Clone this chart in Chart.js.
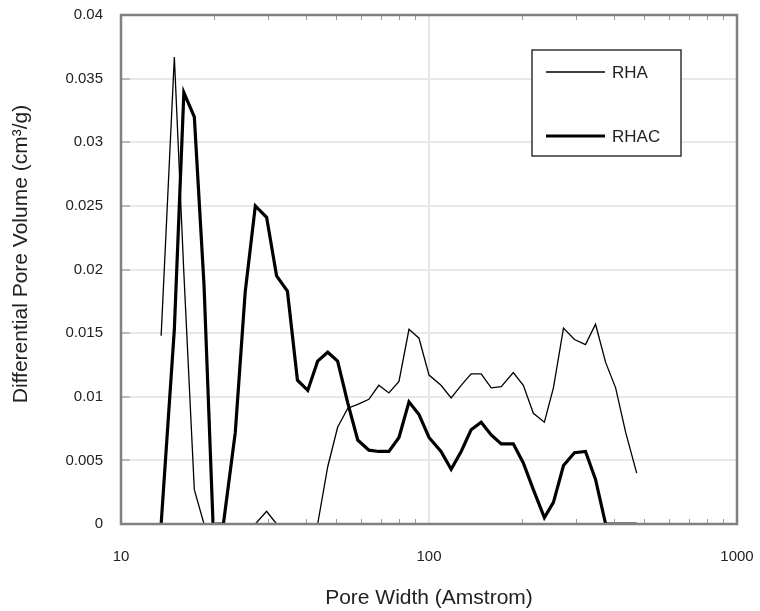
<!DOCTYPE html>
<html>
<head>
<meta charset="utf-8">
<script src="https://cdn.jsdelivr.net/npm/chart.js@4/dist/chart.umd.min.js"></script>
<style>
  html, body { margin: 0; padding: 0; background: #fff; }
  #wrap { width: 760px; height: 611px; }
</style>
</head>
<body>
<div id="wrap"><canvas id="pore-chart" width="760" height="611"></canvas></div>
<script>
// pore widths (Amstrom), shared by both series
const poreWidth = [13.5, 14.9, 16.0, 17.3, 18.6, 19.9, 21.5, 23.5, 25.3, 27.3,
    29.7, 32.0, 34.7, 37.4, 40.4, 43.5, 46.9, 50.5, 54.5, 58.7,
    63.8, 68.7, 74.1, 79.9, 86.1, 92.8, 100, 109.4, 118.0, 127.2,
    137.0, 147.7, 159.2, 171.6, 187.8, 202.4, 218.2, 236.9, 253.5, 273.3,
    296.7, 322.2, 347.3, 374.5, 403.6, 435.0, 472.4];

// differential pore volume (cm3/g)
const rhaVolume = [0.0148, 0.0367, 0.0197, 0.0027, 0, 0, 0, 0, 0, 0,
    0.0010, 0, 0, 0, 0, 0, 0.0045, 0.0076, 0.0091, 0.0094,
    0.0098, 0.0109, 0.0103, 0.0112, 0.0153, 0.0146, 0.0117, 0.0109, 0.0099, 0.0109,
    0.0118, 0.0118, 0.0107, 0.0108, 0.0119, 0.0109, 0.0087, 0.0080, 0.0107, 0.0154,
    0.0145, 0.0141, 0.0157, 0.0127, 0.0107, 0.0072, 0.0040];

const rhacVolume = [0, 0.0153, 0.0339, 0.0320, 0.0188, 0, 0, 0.0072, 0.0182, 0.0250,
    0.0241, 0.0195, 0.0183, 0.0113, 0.0105, 0.0128, 0.0135, 0.0128, 0.0095, 0.0066,
    0.0058, 0.0057, 0.0057, 0.0068, 0.0096, 0.0086, 0.0068, 0.0057, 0.0043, 0.0057,
    0.0074, 0.0080, 0.0070, 0.0063, 0.0063, 0.0048, 0.0027, 0.0005, 0.0017, 0.0046,
    0.0056, 0.0057, 0.0035, 0, 0, 0, 0];

const xTickLabels = [10, 100, 1000];
const yTickLabels = ['0', '0.005', '0.01', '0.015', '0.02', '0.025', '0.03', '0.035', '0.04'];
const yTitle = 'Differential Pore Volume (cm³/g)';

const FONT = '"Liberation Sans", Arial, sans-serif';

const toPoints = values => values.map((v, i) => ({ x: poreWidth[i], y: v }));

// frame, inward tick marks, y title and boxed legend like the Excel original
const framePlugin = {
    id: 'frame',
    afterDraw(chart) {
        const { ctx, chartArea: a, scales } = chart;
        ctx.save();
        // minor ticks along top and bottom
        ctx.strokeStyle = '#999';
        ctx.lineWidth = 1;
        for (let d = 10; d < 1000; d *= 10) {
            for (let k = 2; k <= 9; k++) {
                const px = Math.round(scales.x.getPixelForValue(d * k)) + 0.5;
                ctx.beginPath();
                ctx.moveTo(px, a.bottom); ctx.lineTo(px, a.bottom - 5);
                ctx.moveTo(px, a.top); ctx.lineTo(px, a.top + 5);
                ctx.stroke();
            }
        }
        // y ticks on left
        ctx.strokeStyle = '#bbb';
        ctx.lineWidth = 2;
        yTickLabels.forEach(t => {
            const py = Math.round(scales.y.getPixelForValue(parseFloat(t)));
            ctx.beginPath();
            ctx.moveTo(a.left, py); ctx.lineTo(a.left + 9, py);
            ctx.stroke();
        });
        // frame
        ctx.strokeStyle = '#808080';
        ctx.lineWidth = 2.5;
        ctx.strokeRect(a.left, a.top, a.right - a.left, a.bottom - a.top);

        // y axis title, sits a bit above the middle in the original
        ctx.save();
        ctx.translate(21, 254);
        ctx.rotate(-Math.PI / 2);
        ctx.font = '21px ' + FONT;
        ctx.fillStyle = '#222';
        ctx.textAlign = 'center';
        ctx.textBaseline = 'middle';
        ctx.fillText(yTitle, 0, 0);
        ctx.restore();

        // legend box
        const bx = 532, by = 50, bw = 149, bh = 106;
        ctx.fillStyle = '#fff';
        ctx.fillRect(bx, by, bw, bh);
        ctx.strokeStyle = '#333';
        ctx.lineWidth = 1.5;
        ctx.strokeRect(bx, by, bw, bh);
        ctx.font = '17px ' + FONT;
        ctx.textBaseline = 'middle';
        ctx.fillStyle = '#222';
        chart.data.datasets.forEach((ds, i) => {
            const ly = by + 22 + i * 64;
            ctx.strokeStyle = '#000';
            ctx.lineWidth = ds.borderWidth;
            ctx.beginPath();
            ctx.moveTo(bx + 14, ly); ctx.lineTo(bx + 73, ly);
            ctx.stroke();
            ctx.fillText(ds.label, bx + 80, ly + 1);
        });
        ctx.restore();
    }
};

const ctx = document.getElementById('pore-chart').getContext('2d');
const poreChart = new Chart(ctx, {
    type: 'line',
    data: {
        datasets: [{
            label: 'RHA',
            data: toPoints(rhaVolume),
            borderColor: '#000',
            borderWidth: 1.3,
            pointRadius: 0,
            fill: false,
            tension: 0
        }, {
            label: 'RHAC',
            data: toPoints(rhacVolume),
            borderColor: '#000',
            borderWidth: 3.2,
            pointRadius: 0,
            fill: false,
            tension: 0
        }]
    },
    plugins: [framePlugin],
    options: {
        responsive: false,
        animation: false,
        layout: { padding: { left: 0, right: 23, top: 15, bottom: 0 } },
        plugins: {
            legend: { display: false },
            tooltip: { enabled: false }
        },
        scales: {
            x: {
                type: 'logarithmic',
                min: 10,
                max: 1000,
                afterFit: scale => {
                    scale.height = 87;
                    scale.paddingLeft = 0;
                    scale.paddingRight = 0;
                },
                afterBuildTicks: scale => {
                    scale.ticks = xTickLabels.map(v => ({ value: v, major: true }));
                },
                grid: {
                    color: ctx => ctx.tick && ctx.tick.value === 100 ? '#e6e6e6' : 'rgba(0,0,0,0)',
                    lineWidth: 2,
                    drawTicks: false
                },
                border: { display: false },
                ticks: {
                    padding: 24,
                    color: '#222',
                    font: { family: FONT, size: 15 },
                    maxRotation: 0,
                    callback: v => String(v)
                },
                title: {
                    display: true,
                    text: 'Pore Width (Amstrom)',
                    color: '#222',
                    font: { family: FONT, size: 21 },
                    padding: { top: 0, bottom: 0 }
                }
            },
            y: {
                min: 0,
                max: 0.04,
                afterFit: scale => {
                    scale.width = 121;
                    scale.paddingTop = 0;
                    scale.paddingBottom = 0;
                },
                afterBuildTicks: scale => {
                    scale.ticks = yTickLabels.map(t => ({ value: parseFloat(t), label: t }));
                },
                grid: {
                    color: '#e8e8e8',
                    lineWidth: 2,
                    drawTicks: false
                },
                border: { display: false },
                ticks: {
                    padding: 18,
                    color: '#222',
                    font: { family: FONT, size: 15 },
                    callback: (v, i) => yTickLabels[i]
                }
            }
        }
    }
});
</script>
</body>
</html>
